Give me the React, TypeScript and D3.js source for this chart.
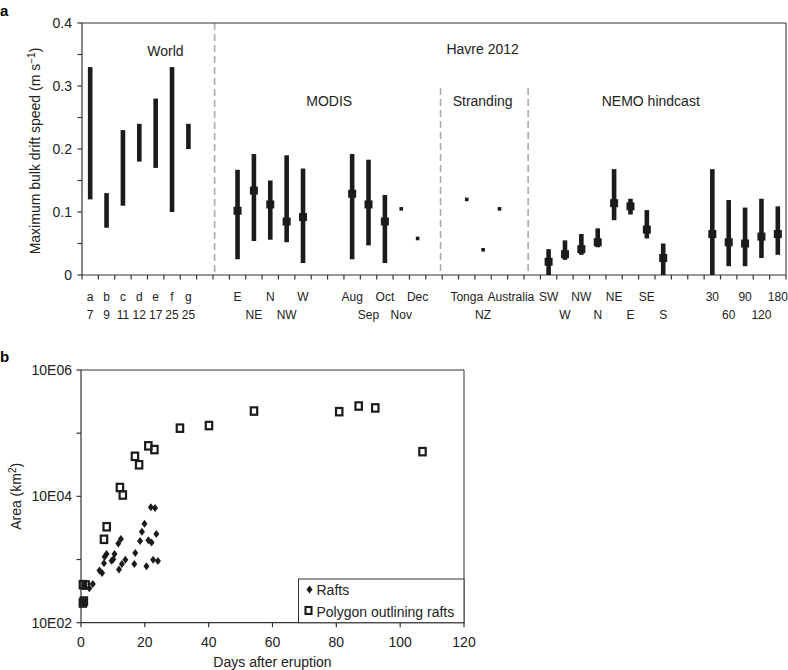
import React from 'react';
import * as d3 from 'd3';

const FONT = '"Liberation Sans", Arial, Helvetica, sans-serif';
const INK = '#1b1b1b';
const AXIS = '#333333';
const DASH = '#ababab';

// ---------------- Panel a data ----------------
const slotCount = 43;
const topRowLabels = ['a', 'b', 'c', 'd', 'e', 'f', 'g', '', '', 'E', '', 'N', '', 'W', '', '', 'Aug', '', 'Oct', '', 'Dec', '', '', 'Tonga', '', 'Australia', '', '', 'SW', '', 'NW', '', 'NE', '', 'SE', '', '', '', '30', '', '90', '', '180'];
const bottomRowLabels = ['7', '9', '11', '12', '17', '25', '25', '', '', '', 'NE', '', 'NW', '', '', '', '', 'Sep', '', 'Nov', '', '', '', '', 'NZ', '', '', '', '', 'W', '', 'N', '', 'E', '', 'S', '', '', '', '60', '', '120', ''];
const labelShift: Record<string, number> = { Australia: 0.7 };

const worldSlots = [0, 1, 2, 3, 4, 5, 6];
const worldLow = [0.12, 0.075, 0.11, 0.18, 0.17, 0.10, 0.20];
const worldHigh = [0.33, 0.13, 0.23, 0.24, 0.28, 0.33, 0.24];

const modisSlots = [9, 10, 11, 12, 13, 16, 17, 18];
const modisMid = [0.102, 0.134, 0.112, 0.085, 0.092, 0.129, 0.112, 0.085];
const modisLow = [0.025, 0.054, 0.056, 0.052, 0.019, 0.025, 0.047, 0.019];
const modisHigh = [0.167, 0.192, 0.150, 0.190, 0.169, 0.192, 0.183, 0.127];
const modisDotSlots = [19, 20];
const modisDots = [0.105, 0.058];

const strandingSlots = [23, 24, 25];
const strandingValues = [0.12, 0.04, 0.105];

const nemoSlots = [28, 29, 30, 31, 32, 33, 34, 35, 38, 39, 40, 41, 42];
const nemoMid = [0.021, 0.033, 0.041, 0.052, 0.114, 0.109, 0.072, 0.027, 0.065, 0.052, 0.050, 0.061, 0.065];
const nemoLow = [0, 0.024, 0.032, 0.044, 0.087, 0.096, 0.058, 0, 0, 0.014, 0.014, 0.027, 0.032];
const nemoHigh = [0.041, 0.055, 0.065, 0.074, 0.168, 0.121, 0.103, 0.050, 0.168, 0.119, 0.107, 0.121, 0.109];

const dividerSlots = [8.1, 21.9, 27.25];
const dividerTops = [0.4, 0.297, 0.297];

const sectionNames = ['World', 'Havre 2012', 'MODIS', 'Stranding', 'NEMO hindcast'];
const sectionSlots = [5.1, 24.47, 15.1, 24.47, 34.74];
const sectionLevels = [0.348, 0.351, 0.268, 0.268, 0.268];

const yTicksA = [0, 0.1, 0.2, 0.3, 0.4];
const yMinorA = [0.05, 0.15, 0.25, 0.35];

// ---------------- Panel b data ----------------
const raftDays = [0.8, 1.1, 2.6, 3.7, 5.8, 6.6, 7.4, 8.0, 7.2, 10.1, 9.6, 10.5, 11.7, 12.5, 11.9, 12.8, 13.9, 17.0, 16.7, 18.5, 19.1, 19.9, 21.1, 22.1, 23.6, 20.5, 22.6, 24.1, 21.9, 23.2];
const raftArea = [210, 395, 350, 410, 670, 610, 1110, 1220, 870, 1010, 960, 1220, 1800, 2110, 695, 850, 990, 1270, 850, 1960, 2760, 3680, 2010, 1860, 2530, 780, 990, 950, 6700, 6530];
const polyDays = [0.6, 0.9, 0.6, 1.5, 7.2, 8.05, 12.2, 13.1, 16.9, 18.2, 21.1, 23.0, 31.0, 40.1, 54.2, 80.9, 87.0, 92.2, 107.0];
const polyArea = [205, 220, 400, 395, 2090, 3300, 13800, 10500, 43000, 31600, 63000, 55000, 120000, 132000, 224000, 219000, 269000, 251000, 51000];

const xTicksB = [0, 20, 40, 60, 80, 100, 120];
const yTicksB = [1e2, 1e3, 1e4, 1e5, 1e6];
const yLabelsB: Record<number, string> = { 100: '10E02', 10000: '10E04', 1000000: '10E06' };

export default function App() {
  // Panel a scales
  const aL = 82, aR = 786, aT = 23, aB = 275;
  const xA = d3.scaleLinear().domain([0, slotCount]).range([aL, aR]);
  const yA = d3.scaleLinear().domain([0, 0.4]).range([aB, aT]);
  const cx = (s: number) => xA(s + 0.5);

  // Panel b scales
  const bL = 81, bR = 464, bT = 370, bB = 622.7;
  const xB = d3.scaleLinear().domain([0, 120]).range([bL, bR]);
  const yB = d3.scaleLog().domain([1e2, 1e6]).range([bB, bT]);

  const barW = 4.6;
  const mk = 8;
  const dot = 3.6;

  const errBar = (slot: number, lo: number, hi: number, key: string) => (
    <rect key={key} x={cx(slot) - barW / 2} y={yA(hi)} width={barW} height={yA(lo) - yA(hi)} fill={INK} />
  );
  const marker = (slot: number, v: number, key: string, size: number) => (
    <rect key={key} x={cx(slot) - size / 2} y={yA(v) - size / 2} width={size} height={size} fill={INK} />
  );

  const diamond = 'M0,-4 L3,0 L0,4 L-3,0 Z';

  const legW = 165.5, legH = 43.7;
  const legX = bR - legW, legY = bB - legH;

  return (
    <svg width={788} height={670} style={{ position: 'absolute', left: 0, top: 0, fontFamily: FONT }}>
      <rect x={0} y={0} width={788} height={670} fill="#ffffff" />
      {/* ===== Panel a ===== */}
      <text x={0} y={16} fontSize={15} fontWeight="bold" fill="#000">a</text>

      {/* dashed dividers */}
      {dividerSlots.map((s, i) => (
        <line key={'dv' + i} x1={xA(s)} x2={xA(s)} y1={yA(dividerTops[i])} y2={aB} stroke={DASH} strokeWidth={1.6} strokeDasharray="7,4" />
      ))}

      {/* frame */}
      <line x1={aL} x2={aR} y1={aT} y2={aT} stroke={AXIS} strokeWidth={1} />
      <line x1={aR} x2={aR} y1={aT} y2={aB} stroke={AXIS} strokeWidth={1} />
      <line x1={aL} x2={aL} y1={aT} y2={aB} stroke={AXIS} strokeWidth={1.2} />
      <line x1={aL} x2={aR} y1={aB} y2={aB} stroke={AXIS} strokeWidth={1.2} />

      {/* y ticks */}
      {[...yTicksA, ...yMinorA].map((t, i) => (
        <line key={'yta' + i} x1={aL - 4.5} x2={aL} y1={yA(t)} y2={yA(t)} stroke={AXIS} strokeWidth={1.2} />
      ))}
      {yTicksA.map((t, i) => (
        <text key={'ytl' + i} x={72} y={yA(t)} dy="0.36em" textAnchor="end" fontSize={14} fill="#222">{t === 0 ? '0' : t.toFixed(1)}</text>
      ))}

      {/* x ticks */}
      {d3.range(slotCount + 1).map((s) => (
        <line key={'xta' + s} x1={xA(s)} x2={xA(s)} y1={aB} y2={aB + 4.5} stroke={AXIS} strokeWidth={1.2} />
      ))}
      {topRowLabels.map((l, s) => l ? (
        <text key={'tl' + s} x={cx(s + (labelShift[l] || 0))} y={301} textAnchor="middle" fontSize={12} fill="#222">{l}</text>
      ) : null)}
      {bottomRowLabels.map((l, s) => l ? (
        <text key={'bl' + s} x={cx(s)} y={319} textAnchor="middle" fontSize={12} fill="#222">{l}</text>
      ) : null)}

      {/* y title */}
      <text transform={`translate(35,${(aT + aB) / 2 + 2}) rotate(-90)`} textAnchor="middle" dy="0.35em" fontSize={14} fill="#222">
        Maximum bulk drift speed (m s<tspan dy={-5} fontSize={10}>−1</tspan><tspan dy={5}>)</tspan>
      </text>

      {/* section titles */}
      {sectionNames.map((n, i) => (
        <text key={'sec' + i} x={xA(sectionSlots[i])} y={yA(sectionLevels[i])} textAnchor="middle" fontSize={14} fill="#222">{n}</text>
      ))}

      {/* data */}
      {worldSlots.map((s, i) => errBar(s, worldLow[i], worldHigh[i], 'w' + i))}
      {modisSlots.map((s, i) => errBar(s, modisLow[i], modisHigh[i], 'mb' + i))}
      {modisSlots.map((s, i) => marker(s, modisMid[i], 'mm' + i, mk))}
      {modisDotSlots.map((s, i) => marker(s, modisDots[i], 'md' + i, dot))}
      {strandingSlots.map((s, i) => marker(s, strandingValues[i], 'st' + i, dot))}
      {nemoSlots.map((s, i) => errBar(s, nemoLow[i], nemoHigh[i], 'nb' + i))}
      {nemoSlots.map((s, i) => marker(s, nemoMid[i], 'nm' + i, mk))}

      {/* ===== Panel b ===== */}
      <text x={0} y={362} fontSize={15} fontWeight="bold" fill="#000">b</text>
      <line x1={bL} x2={bR} y1={bT} y2={bT} stroke={AXIS} strokeWidth={1} />
      <line x1={bR} x2={bR} y1={bT} y2={bB} stroke={AXIS} strokeWidth={1} />
      <line x1={bL} x2={bL} y1={bT} y2={bB} stroke={AXIS} strokeWidth={1.2} />
      <line x1={bL} x2={bR} y1={bB} y2={bB} stroke={AXIS} strokeWidth={1.2} />

      {xTicksB.map((t) => (
        <g key={'xtb' + t}>
          <line x1={xB(t)} x2={xB(t)} y1={bB} y2={bB + 4.5} stroke={AXIS} strokeWidth={1.2} />
          <text x={xB(t)} y={646.7} textAnchor="middle" fontSize={14} fill="#222">{t}</text>
        </g>
      ))}
      {yTicksB.map((t) => (
        <g key={'ytb' + t}>
          <line x1={bL - 4.5} x2={bL} y1={yB(t)} y2={yB(t)} stroke={AXIS} strokeWidth={1.2} />
          {yLabelsB[t] ? (
            <text x={72} y={yB(t)} dy="0.36em" textAnchor="end" fontSize={14} fill="#222">{yLabelsB[t]}</text>
          ) : null}
        </g>
      ))}
      <text x={(bL + bR) / 2} y={667} textAnchor="middle" fontSize={14} fill="#222">Days after eruption</text>
      <text transform={`translate(16,${(bT + bB) / 2}) rotate(-90)`} textAnchor="middle" dy="0.35em" fontSize={14} fill="#222">
        Area (km<tspan dy={-5} fontSize={10}>2</tspan><tspan dy={5}>)</tspan>
      </text>

      {raftDays.map((d, i) => (
        <path key={'r' + i} d={diamond} transform={`translate(${xB(d)},${yB(raftArea[i])})`} fill={INK} />
      ))}
      {polyDays.map((d, i) => (
        <rect key={'p' + i} x={xB(d) - 3.2} y={yB(polyArea[i]) - 3.7} width={6.4} height={7.4} fill="none" stroke={INK} strokeWidth={2.2} />
      ))}

      {/* legend */}
      <rect x={legX} y={legY} width={legW} height={legH} fill="#ffffff" stroke={AXIS} strokeWidth={1} />
      <path d={diamond} transform={`translate(${legX + 11},${legY + 10.5})`} fill={INK} />
      <text x={legX + 18} y={legY + 16} fontSize={14} fill="#222">Rafts</text>
      <rect x={legX + 7} y={legY + 28} width={6} height={7} fill="none" stroke={INK} strokeWidth={2.1} />
      <text x={legX + 18} y={legY + 37.7} fontSize={14} fill="#222">Polygon outlining rafts</text>
    </svg>
  );
}
